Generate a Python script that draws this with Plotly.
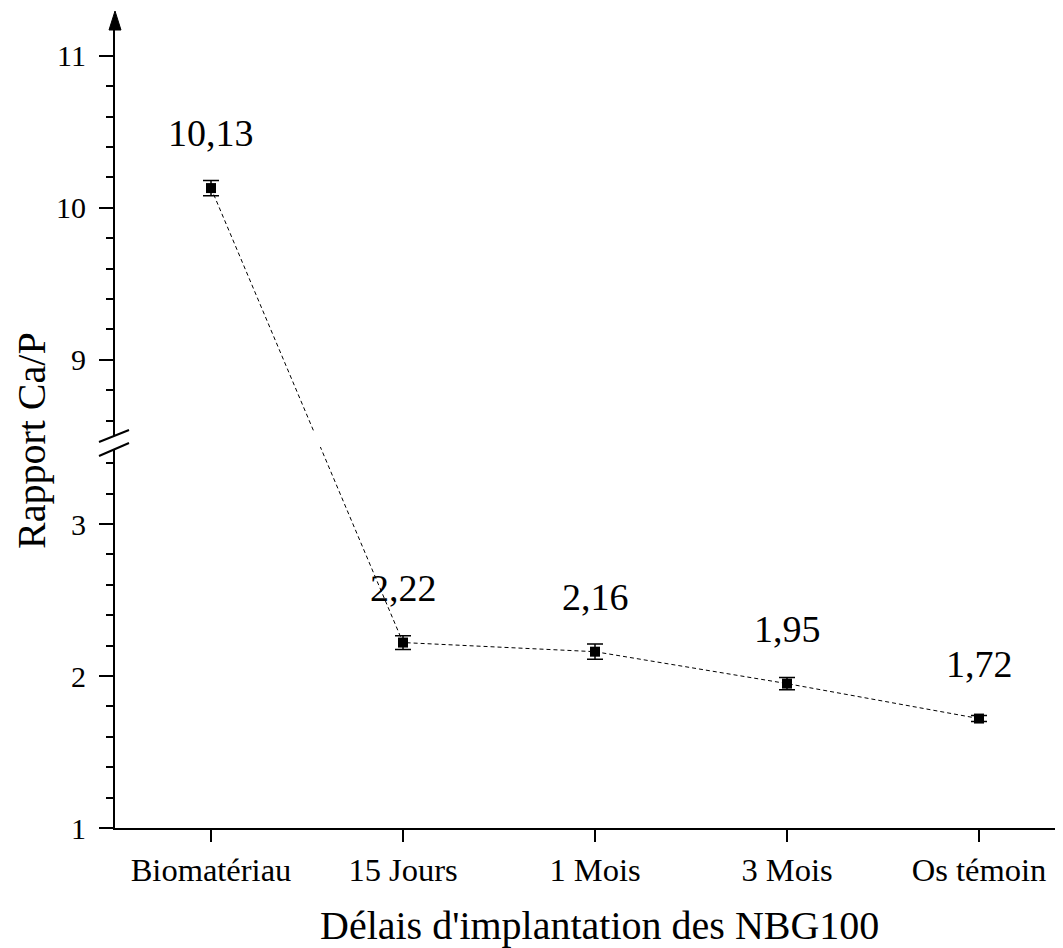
import plotly.graph_objects as go

# ---- data ----
categories = ["Biomatériau", "15 Jours", "1 Mois", "3 Mois", "Os témoin"]
ca_p = [10.13, 2.22, 2.16, 1.95, 1.72]
ca_p_err = [0.05, 0.045, 0.05, 0.04, 0.02]
major_ticks = [1, 2, 3, 9, 10, 11]
minor_ticks = [1.2, 1.4, 1.6, 1.8, 2.2, 2.4, 2.6, 2.8, 3.2, 3.4,
               8.6, 8.8, 9.2, 9.4, 9.6, 9.8, 10.2, 10.4, 10.6, 10.8]
x_title = "Délais d'implantation des NBG100"
y_title = "Rapport Ca/P"

# ---- broken axis transform ----
LOW_TOP = 3.5
HIGH_BOTTOM = 8.5
GAP = 0.08


def ty(v):
    return v if v <= LOW_TOP else v - HIGH_BOTTOM + LOW_TOP + GAP


FONT = "'Liberation Serif', 'Times New Roman', Times, serif"
OFF = 8  # default page body margin
W, H = 1063 - OFF, 948 - OFF
L, R, T = 115 - OFF, 0, 20 - OFF
B = H - (828 - OFF)
PW, PH = W - L - R, H - T - B
PPU = 152.0  # pixels per unit


def px(xp):  # page pixel x -> paper
    return (xp - OFF - L) / PW


def py(yp):  # page pixel y -> paper
    return (H - B - (yp - OFF)) / PH


y_plot = [ty(v) for v in ca_p]

fig = go.Figure()
fig.add_trace(go.Scatter(
    x=categories, y=y_plot,
    mode="lines+markers",
    line=dict(color="black", width=1, dash="4px,3px"),
    marker=dict(symbol="square", size=10, color="black"),
    error_y=dict(type="data", array=ca_p_err, visible=True,
                 color="black", thickness=1.5, width=8),
    showlegend=False,
))

for c, v, yp in zip(categories, ca_p, y_plot):
    fig.add_annotation(x=c, y=yp, text=f"{v:.2f}".replace(".", ","),
                       showarrow=False, yshift=55,
                       font=dict(family=FONT, size=38, color="black"))

# axis titles
fig.add_annotation(xref="paper", yref="paper", x=px(599), y=py(925),
                   text=x_title, showarrow=False, xanchor="center", yanchor="middle",
                   font=dict(family=FONT, size=40, color="black"))
fig.add_annotation(xref="paper", yref="paper", x=px(31), y=py(441),
                   text=y_title, showarrow=False, textangle=-90,
                   xanchor="center", yanchor="middle",
                   font=dict(family=FONT, size=40, color="black"))

shapes = []
# white band to interrupt the line at the break
shapes.append(dict(type="rect", xref="paper", yref="paper",
                   x0=px(131), x1=1, y0=py(447), y1=py(431),
                   fillcolor="white", line=dict(width=0), layer="above"))
# white gap in axis between break marks
shapes.append(dict(type="path", xref="paper", yref="paper",
                   path=f"M {px(99)} {py(442)} L {px(129)} {py(430)} L {px(129)} {py(443)} L {px(99)} {py(456)} Z",
                   fillcolor="white", line=dict(width=0), layer="above"))
for (a, b) in [((99, 442), (129, 430)), ((99, 456), (129, 443))]:
    shapes.append(dict(type="line", xref="paper", yref="paper",
                       x0=px(a[0]), y0=py(a[1]), x1=px(b[0]), y1=py(b[1]),
                       line=dict(color="black", width=2), layer="above"))
# arrowhead on y axis
shapes.append(dict(type="path", xref="paper", yref="paper",
                   path=f"M {px(109)} {py(30)} L {px(115)} {py(11)} L {px(121)} {py(30)} Z",
                   fillcolor="black", line=dict(color="black", width=1), layer="above"))

fig.update_layout(
    width=W, height=H,
    margin=dict(l=L, r=R, t=T, b=B, autoexpand=False),
    plot_bgcolor="white", paper_bgcolor="white",
    font=dict(family=FONT, color="black"),
    shapes=shapes,
    xaxis=dict(
        type="category", range=[-0.5, 4.4375], automargin=False,
        showline=True, linecolor="black", linewidth=2,
        ticks="outside", ticklen=12, tickwidth=2, tickcolor="black",
        tickfont=dict(family=FONT, size=32.5, color="black"),
        showgrid=False, zeroline=False,
    ),
    yaxis=dict(
        range=[1, 1 + PH / PPU], automargin=False,
        showline=True, linecolor="black", linewidth=2,
        ticks="outside", ticklen=14, tickwidth=2, tickcolor="black",
        ticklabelstandoff=7,
        tickvals=[ty(v) for v in major_ticks],
        ticktext=[str(v) for v in major_ticks],
        tickfont=dict(family=FONT, size=30, color="black"),
        minor=dict(tickvals=[ty(v) for v in minor_ticks], ticks="outside",
                   ticklen=7, tickwidth=2, tickcolor="black", showgrid=False),
        showgrid=False, zeroline=False,
    ),
)

fig.write_html("out.html")
